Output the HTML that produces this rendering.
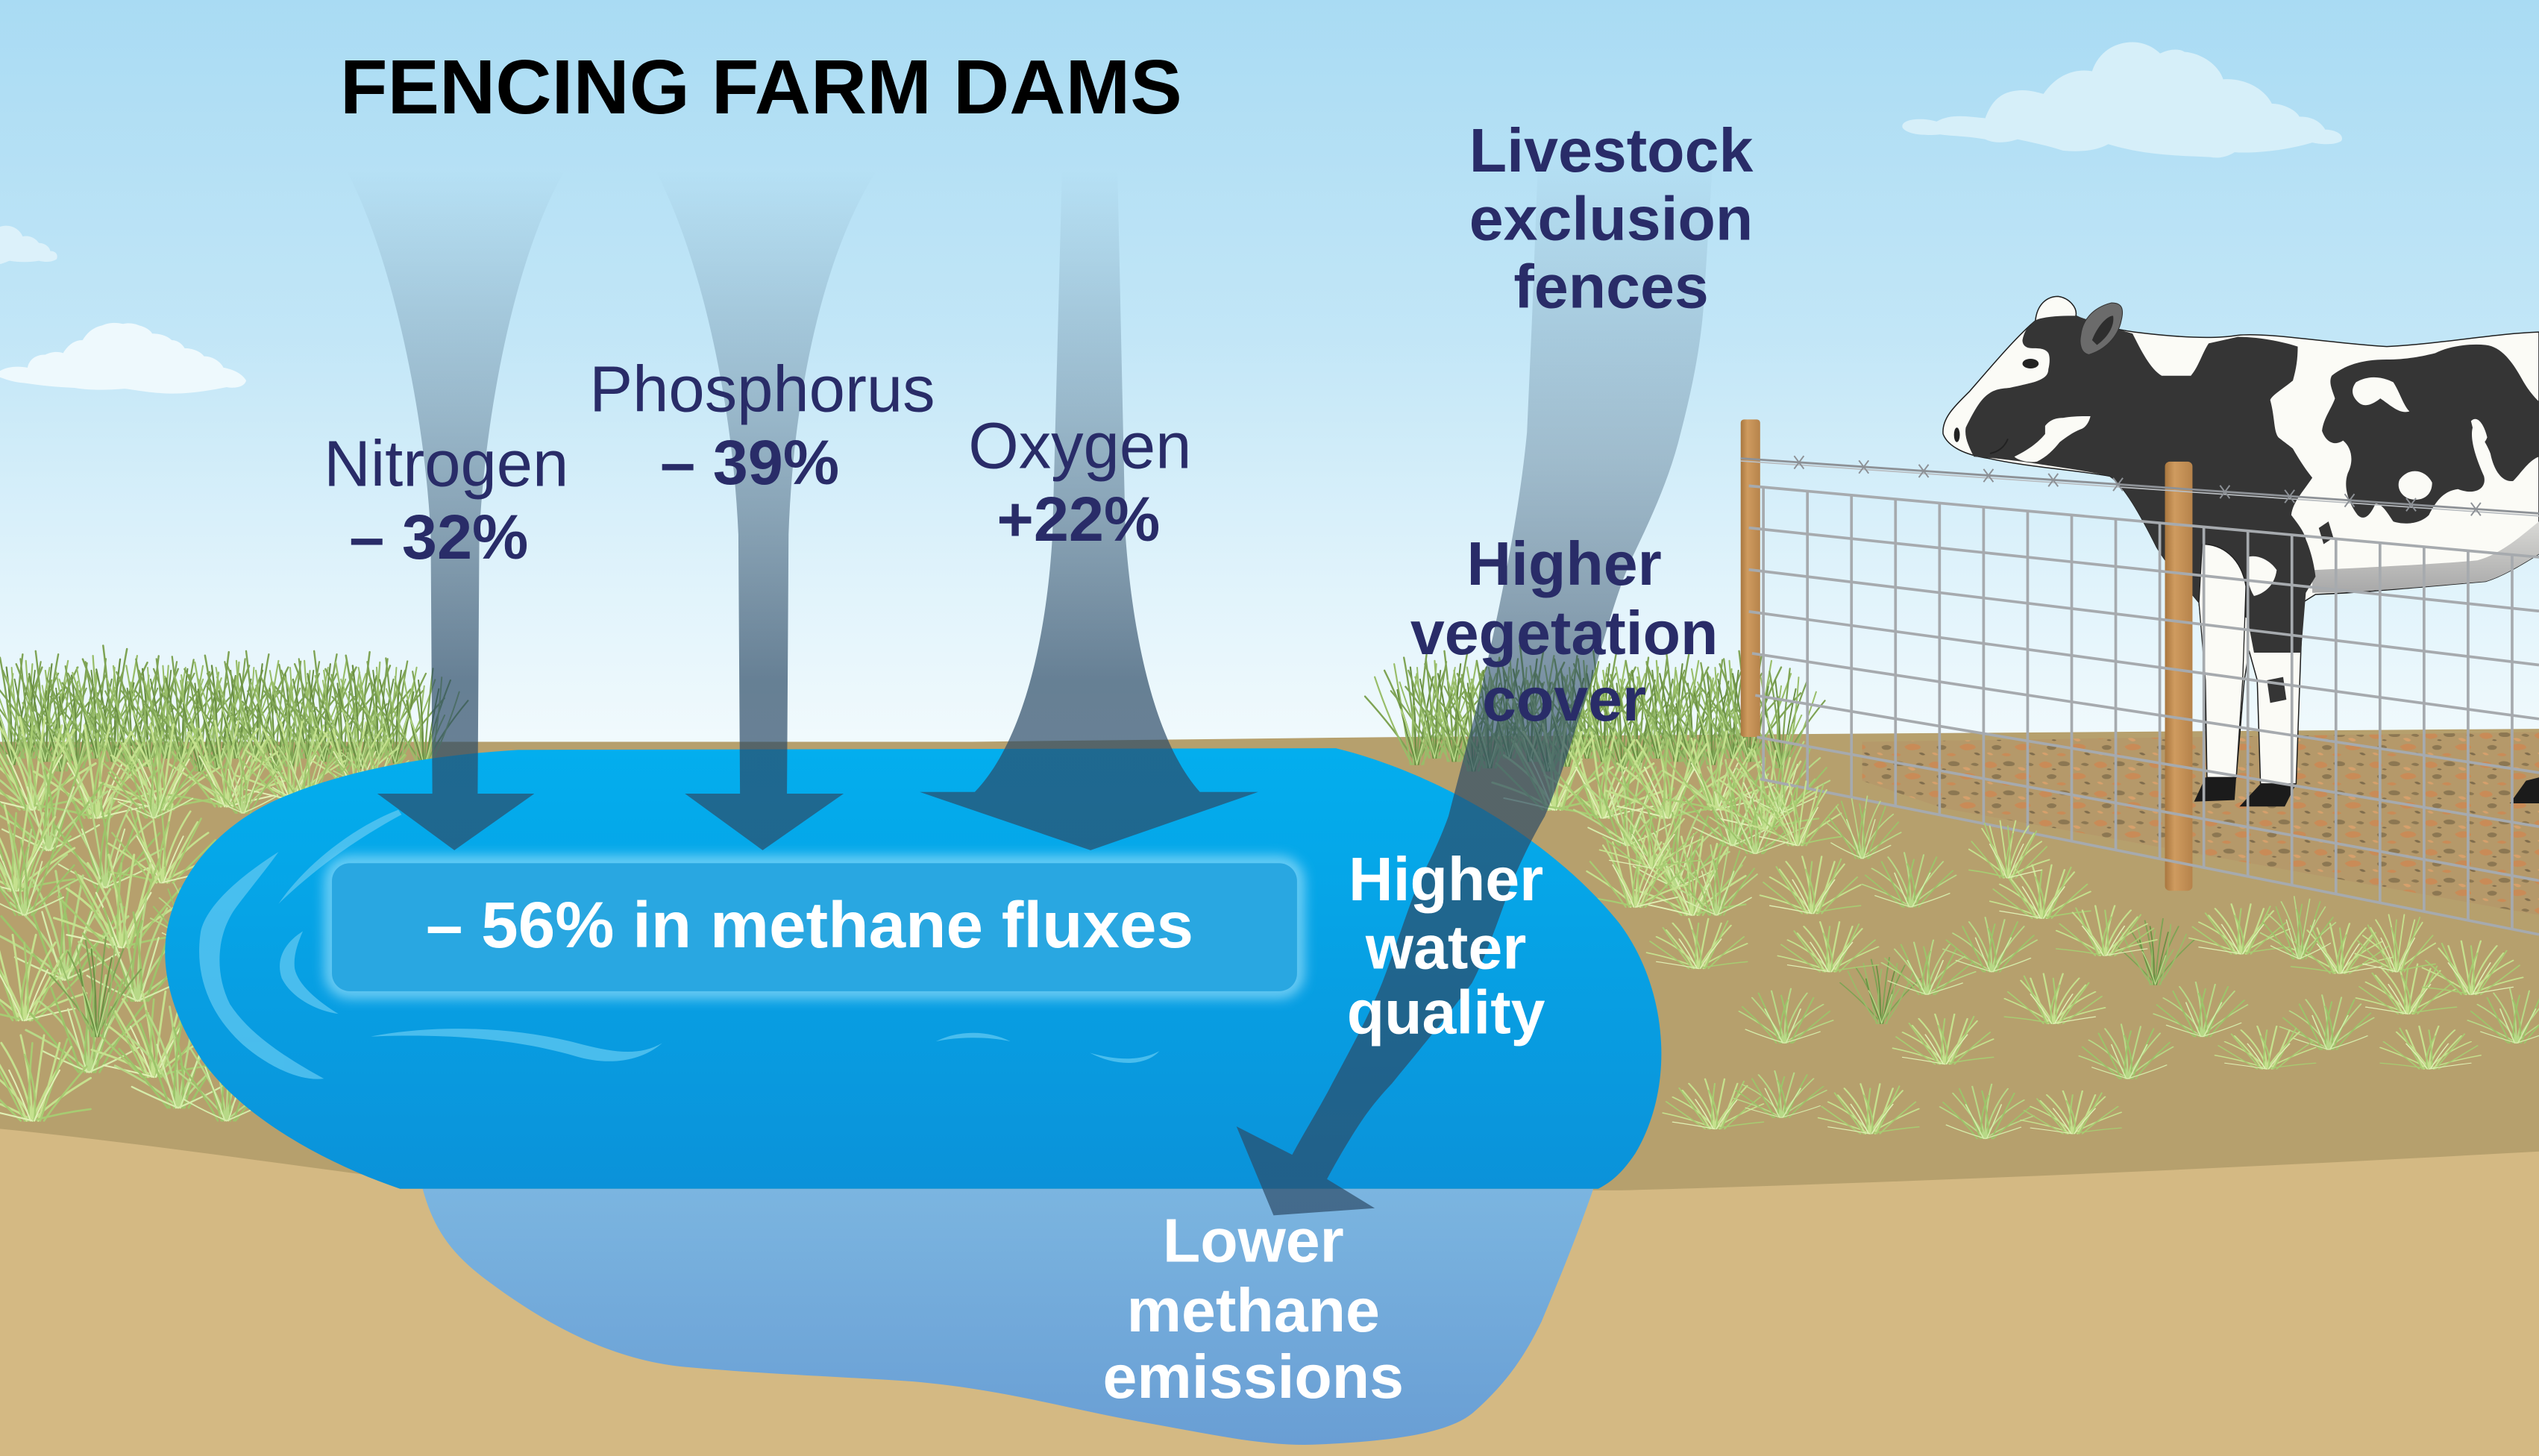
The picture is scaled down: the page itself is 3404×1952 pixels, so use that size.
<!DOCTYPE html>
<html><head><meta charset="utf-8"><style>
html,body{margin:0;padding:0;background:#fff;overflow:hidden}
svg{display:block}
text{font-family:"Liberation Sans",Arial,sans-serif}
</style></head><body>
<svg xmlns="http://www.w3.org/2000/svg" width="3404" height="1952" viewBox="0 0 1568 899" preserveAspectRatio="none">
<defs>
<linearGradient id="sky" x1="0" y1="0" x2="0" y2="460" gradientUnits="userSpaceOnUse">
<stop offset="0" stop-color="#a9dbf3"/><stop offset="0.45" stop-color="#c2e6f7"/><stop offset="0.78" stop-color="#e0f3fb"/><stop offset="1" stop-color="#f1fafd"/>
</linearGradient>
<linearGradient id="pond" x1="0" y1="462" x2="0" y2="734" gradientUnits="userSpaceOnUse">
<stop offset="0" stop-color="#03aeee"/><stop offset="1" stop-color="#0b92d9"/>
</linearGradient>
<linearGradient id="pond2" x1="0" y1="734" x2="0" y2="892" gradientUnits="userSpaceOnUse">
<stop offset="0" stop-color="#7bb5e0"/><stop offset="1" stop-color="#699ed4"/>
</linearGradient>
<linearGradient id="ag" x1="0" y1="105" x2="0" y2="420" gradientUnits="userSpaceOnUse">
<stop offset="0" stop-color="#2b4a66" stop-opacity="0"/><stop offset="0.45" stop-color="#2b4a66" stop-opacity="0.3"/><stop offset="1" stop-color="#2b4a66" stop-opacity="0.69"/>
</linearGradient>
<linearGradient id="ag2" x1="0" y1="95" x2="0" y2="470" gradientUnits="userSpaceOnUse">
<stop offset="0" stop-color="#2b4a66" stop-opacity="0"/><stop offset="0.5" stop-color="#2b4a66" stop-opacity="0.3"/><stop offset="1" stop-color="#2b4a66" stop-opacity="0.69"/>
</linearGradient>
<linearGradient id="post" x1="0" y1="0" x2="1" y2="0">
<stop offset="0" stop-color="#a9773f"/><stop offset="0.35" stop-color="#cf9b5f"/><stop offset="1" stop-color="#b6834b"/>
</linearGradient>
<linearGradient id="belly" x1="0" y1="0" x2="0" y2="1">
<stop offset="0" stop-color="#d9d9d6"/><stop offset="1" stop-color="#a8a8a8"/>
</linearGradient>
<filter id="glow" x="-10%" y="-40%" width="120%" height="180%"><feGaussianBlur stdDeviation="4"/></filter>
<pattern id="pen" width="34" height="18" patternUnits="userSpaceOnUse">
<rect width="34" height="18" fill="#b5996a"/>
<path fill="#c98b57" d="M1,4 q3,-3 7,-1 q3,2 -1,3 q-4,1 -6,-2z M20,11 q4,-3 9,-1 q3,2 -2,3 q-5,1 -7,-2z M12,16 q3,-2 6,0 q-2,2 -6,0z"/>
<path fill="#8c7752" d="M13,3 q3,-2 7,0 q1,2 -3,2 q-4,0 -4,-2z M6,11 q3,-2 6,0 q0,2 -3,2 q-3,0 -3,-2z M27,4 q2,-2 5,0 q-1,2 -5,0z"/>
<path fill="#d6a06c" d="M22,6 q3,-1 5,1 q-2,2 -5,-1z M3,15 q2,-1 4,1 q-2,1 -4,-1z"/>
<path fill="#7f6c4c" d="M29,15 q2,-1 4,1 q-2,1 -4,-1z M9,7 q1,-1 3,0 q-1,1 -3,0z"/>
</pattern>
<g id="tA" fill="none" stroke-linecap="round">
<path stroke="#b7d987" stroke-width="1" d="M0,0Q-6,-20-24,-34M0,0Q-3,-24-14,-44M0,0Q0,-26-4,-48M0,0Q4,-24 8,-46M0,0Q6,-18 20,-40M0,0Q8,-12 28,-28M0,0Q-10,-10-30,-20"/>
<path stroke="#9cc46a" stroke-width="1" d="M-4,0Q-10,-18-18,-40M3,0Q8,-20 16,-44M-2,0Q-2,-22 2,-42M5,0Q12,-14 26,-32M-5,0Q-14,-12-28,-28M2,0Q4,-18-2,-38"/>
<path stroke="#d5ecaa" stroke-width="0.8" d="M-1,0Q-6,-16-10,-30M1,0Q6,-14 12,-30M0,0Q-14,-6-22,-10M0,0Q14,-6 24,-12"/>
</g>
<g id="tC" fill="none" stroke-linecap="round">
<path stroke="#c5e18e" stroke-width="1.1" d="M0,0Q-8,-16-26,-28M0,0Q-4,-22-16,-40M0,0Q-1,-24-6,-44M0,0Q3,-24 6,-44M0,0Q7,-18 20,-38M0,0Q10,-10 30,-22M0,0Q-12,-8-32,-14M-3,0Q-8,-14-20,-34M3,0Q8,-16 14,-40"/>
<path stroke="#a7cc72" stroke-width="1" d="M-4,0Q-12,-16-22,-36M4,0Q10,-18 18,-42M-2,0Q-2,-20 0,-40M6,0Q14,-12 28,-28M-6,0Q-16,-10-30,-24M1,0Q3,-16-4,-34M0,0Q14,-4 30,-6"/>
<path stroke="#e0f0b4" stroke-width="0.8" d="M-1,0Q-6,-14-12,-26M1,0Q6,-12 14,-26M0,0Q-16,-4-26,-6"/>
</g>
<g id="tB" fill="none" stroke-linecap="round">
<path stroke="#7ea354" stroke-width="1.1" d="M0,0Q-6,-30-20,-58M0,0Q-2,-34-8,-66M0,0Q2,-36 6,-68M0,0Q6,-30 18,-60M0,0Q10,-22 30,-46M0,0Q-12,-20-32,-42"/>
<path stroke="#98bd69" stroke-width="1" d="M-4,0Q-8,-28-14,-62M4,0Q10,-30 12,-62M-2,0Q-4,-30 0,-56M3,0Q14,-20 24,-52M-3,0Q-16,-24-26,-54M1,0Q6,-20 14,-36"/>
<path stroke="#6a8f43" stroke-width="1" d="M-1,0Q0,-30-4,-60M1,0Q4,-26 10,-54M0,0Q-8,-22-12,-46"/>
<path stroke="#b9da8a" stroke-width="0.8" d="M0,0Q-4,-20-10,-34M0,0Q5,-18 8,-30"/>
</g>
</defs>

<!-- sky -->
<rect x="0" y="0" width="1568" height="899" fill="url(#sky)"/>
<!-- clouds -->
<path fill="#d6eff9" d="M1175,79 C1173,74 1185,72 1196,75 C1205,70 1215,72 1226,73 C1230,62 1236,57 1245,56 C1252,55 1258,57 1262,58 C1270,46 1282,42 1292,44 C1296,32 1306,26 1317,26 C1325,26 1331,30 1334,33 C1340,30 1346,30 1349,32 C1360,33 1370,40 1373,49 C1385,48 1398,54 1403,64 C1410,64 1418,68 1420,72 C1428,72 1433,75 1436,80 C1442,80 1448,83 1446,87 C1442,90 1432,89 1428,88 C1415,92 1395,95 1380,94 C1375,97 1370,98 1365,97 C1345,96 1325,96 1302,89 C1295,93 1285,94 1274,93 C1265,90 1255,88 1246,86 C1240,88 1232,89 1226,86 C1215,84 1205,84 1198,83 C1188,84 1178,83 1175,79 Z"/>
<path fill="#eef9fd" d="M0,229 C5,226 12,226 17,227 C18,222 22,219 28,219 C32,217 36,217 39,218 C42,213 46,210 51,210 C54,205 58,202 63,201 C67,199 72,199 76,200 C80,199 84,200 86,201 C90,202 93,204 94,206 C100,206 104,208 106,210 C110,210 113,213 114,215 C119,215 124,217 126,220 C131,220 136,223 138,227 C144,228 150,231 152,235 C151,239 145,240 140,239 C130,241 118,243 107,243 C95,243 85,241 77,240 C65,241 55,241 46,239.5 C35,239 25,238 15,236.5 C8,236 3,234 0,233 Z"/>
<path fill="#dcf1fa" d="M0,140 C6,138 12,141 14,146 C18,145 22,147 24,150 C28,150 31,153 31,155 C35,155 36,158 35,160 C32,162 28,162 24,161 C18,162 12,162 6,161 C3,162 1,163 0,163 Z"/>

<!-- ground -->
<path fill="#b6a06d" d="M0,458 L600,458 L870,455 L1568,450 L1568,899 L0,899 Z"/>
<path fill="#d4b983" d="M0,697 C80,705 170,718 260,730 L1000,735 C1150,731 1350,723 1568,711 L1568,899 L0,899 Z"/>
<path fill="url(#pen)" d="M1150,458 L1568,452 L1568,565 L1200,499 L1150,482 Z"/>

<!-- grass behind pond -->
<g>
<use href="#tB" transform="translate(8,472)"/>
<use href="#tB" transform="translate(18,468) scale(-0.9,0.9)"/>
<use href="#tB" transform="translate(28,470) scale(-1,1)"/>
<use href="#tB" transform="translate(38,476) scale(0.85)"/>
<use href="#tB" transform="translate(48,474) scale(0.95)"/>
<use href="#tB" transform="translate(60,468) scale(0.9)"/>
<use href="#tB" transform="translate(70,470) scale(-1.05,1.05)"/>
<use href="#tB" transform="translate(82,476) scale(0.85)"/>
<use href="#tB" transform="translate(92,473)"/>
<use href="#tB" transform="translate(102,468) scale(-0.9,0.9)"/>
<use href="#tB" transform="translate(112,470) scale(-0.95,0.95)"/>
<use href="#tB" transform="translate(124,476) scale(0.9)"/>
<use href="#tB" transform="translate(135,474) scale(1.05)"/>
<use href="#tB" transform="translate(146,468) scale(0.9)"/>
<use href="#tB" transform="translate(158,470) scale(-1,1)"/>
<use href="#tB" transform="translate(170,476) scale(0.85)"/>
<use href="#tB" transform="translate(180,473) scale(0.95)"/>
<use href="#tB" transform="translate(190,468) scale(-0.9,0.9)"/>
<use href="#tB" transform="translate(200,470) scale(-1,1)"/>
<use href="#tB" transform="translate(212,476) scale(0.9)"/>
<use href="#tB" transform="translate(222,474) scale(1.05)"/>
<use href="#tB" transform="translate(234,468) scale(0.9)"/>
<use href="#tB" transform="translate(244,471) scale(-0.95,0.95)"/>
<use href="#tB" transform="translate(262,474) scale(0.9)"/>
<use href="#tC" transform="translate(20,500) scale(1.3)"/>
<use href="#tC" transform="translate(60,505) scale(-1.3,1.3)"/>
<use href="#tC" transform="translate(100,500) scale(1.2)"/>
<use href="#tC" transform="translate(140,498) scale(-1.2,1.2)"/>
<use href="#tC" transform="translate(180,494) scale(1.1)"/>
<use href="#tC" transform="translate(220,490) scale(-1,1)"/>
<use href="#tA" transform="translate(30,525) scale(1.3)"/>
<use href="#tA" transform="translate(65,548) scale(-1.2,1.2)"/>
<use href="#tC" transform="translate(10,550) scale(1.2)"/>
<use href="#tC" transform="translate(100,545) scale(-1.1,1.1)"/>
<use href="#tA" transform="translate(40,605) scale(1.4)"/>
<use href="#tC" transform="translate(75,585) scale(1.3)"/>
<use href="#tA" transform="translate(85,618) scale(-1.3,1.3)"/>
<use href="#tC" transform="translate(15,630) scale(-1.2,1.2)"/>
<use href="#tA" transform="translate(55,662) scale(1.3)"/>
<use href="#tC" transform="translate(95,665) scale(1.2)"/>
<use href="#tA" transform="translate(110,684) scale(1.3)"/>
<use href="#tA" transform="translate(140,692) scale(-1.1,1.1)"/>
<use href="#tC" transform="translate(20,692) scale(1.2)"/>
<use href="#tA" transform="translate(150,502) scale(0.9)"/>
<use href="#tA" transform="translate(190,497) scale(-0.9,0.9)"/>
<use href="#tA" transform="translate(230,492) scale(0.8)"/>
<use href="#tA" transform="translate(95,505)"/>
<use href="#tA" transform="translate(15,565) scale(-1.1,1.1)"/>
<use href="#tA" transform="translate(120,585) scale(0.9)"/>
<use href="#tB" transform="translate(60,640) scale(0.9)"/>
<use href="#tB" transform="translate(875,472)"/>
<use href="#tB" transform="translate(886,468) scale(-0.9,0.9)"/>
<use href="#tB" transform="translate(898,470) scale(-1,1)"/>
<use href="#tB" transform="translate(910,476) scale(0.9)"/>
<use href="#tB" transform="translate(920,474)"/>
<use href="#tB" transform="translate(932,468) scale(0.9)"/>
<use href="#tB" transform="translate(945,470) scale(-1.05,1.05)"/>
<use href="#tB" transform="translate(956,476) scale(0.9)"/>
<use href="#tB" transform="translate(968,473)"/>
<use href="#tB" transform="translate(980,468) scale(-0.9,0.9)"/>
<use href="#tB" transform="translate(990,470) scale(-1,1)"/>
<use href="#tB" transform="translate(1002,476) scale(0.9)"/>
<use href="#tB" transform="translate(1012,474)"/>
<use href="#tB" transform="translate(1024,468) scale(0.9)"/>
<use href="#tB" transform="translate(1035,470) scale(-1,1)"/>
<use href="#tB" transform="translate(1046,476) scale(0.9)"/>
<use href="#tB" transform="translate(1058,472) scale(0.95)"/>
<use href="#tB" transform="translate(1070,468) scale(-0.9,0.9)"/>
<use href="#tB" transform="translate(1080,470) scale(-1,1)"/>
<use href="#tB" transform="translate(1100,474) scale(0.9)"/>
<use href="#tC" transform="translate(960,500) scale(1.2)"/>
<use href="#tC" transform="translate(990,505) scale(-1.2,1.2)"/>
<use href="#tA" transform="translate(1005,522) scale(1.1)"/>
<use href="#tC" transform="translate(1030,505) scale(1.2)"/>
<use href="#tA" transform="translate(1035,548) scale(-1.1,1.1)"/>
<use href="#tC" transform="translate(1060,500) scale(-1.1,1.1)"/>
<use href="#tA" transform="translate(1070,522) scale(1.1)"/>
<use href="#tC" transform="translate(1090,512) scale(1.1)"/>
<use href="#tA" transform="translate(1100,502) scale(-1,1)"/>
<use href="#tC" transform="translate(1045,565) scale(1.1)"/>
<use href="#tA" transform="translate(1060,565) scale(0.9)"/>
<use href="#tC" transform="translate(1010,560) scale(-1,1)"/>
</g>

<!-- pond -->
<path fill="url(#pond2)" d="M261,734 C268,760 280,775 300,790 C340,820 380,840 423,844 C480,849 520,850 564,853 C620,858 660,870 705,878 C745,885 780,893 811,892 C860,890 895,885 910,872 C935,850 945,830 952,816 C965,785 975,760 984,734 Z"/>
<path fill="url(#pond)" d="M320,463 L825,462 C890,478 960,520 1000,570 C1030,610 1035,670 1010,712 C1002,724 995,730 987,734 L247,734 C200,718 150,690 125,655 C105,625 98,595 104,570 C112,535 140,505 180,490 C220,474 270,466 320,463 Z"/>
<g fill="#5fc8f2" opacity="0.75">
<path d="M246,500 C220,510 190,532 172,558 C195,536 220,518 248,503 Z"/>
<path d="M172,526 C150,540 128,558 124,575 C120,600 128,625 150,645 C165,658 185,668 200,666 C180,655 155,640 142,620 C132,600 134,576 146,560 C155,548 165,536 172,526 Z"/>
<path d="M187,575 C176,582 170,592 174,604 C180,616 195,624 209,626 C196,618 184,608 182,598 C181,590 184,582 187,575 Z"/>
<path d="M229,640 C270,632 320,634 360,645 C380,650 395,652 409,644 C395,656 375,658 355,652 C320,642 280,638 229,640 Z"/>
<path d="M578,643 C592,636 610,636 624,643 C610,640 592,640 578,643 Z"/>
<path d="M673,650 C690,655 705,655 716,649 C708,658 690,659 673,650 Z"/>
</g>
<!-- box -->
<rect x="205" y="533" width="596" height="79" rx="11" fill="none" stroke="#8fdcfa" stroke-width="8" filter="url(#glow)" opacity="0.9"/>
<rect x="205" y="533" width="596" height="79" rx="11" fill="#29a7e1"/>

<!-- scattered grass right -->
<g>
<use href="#tC" transform="translate(1049,598) scale(1,0.7)"/>
<use href="#tA" transform="translate(1102,644) scale(-1,0.7)"/>
<use href="#tC" transform="translate(1059,697) scale(1,0.7)"/>
<use href="#tC" transform="translate(1155,700) scale(1,0.7)"/>
<use href="#tA" transform="translate(1226,703) scale(-1,0.7)"/>
<use href="#tB" transform="translate(1162,632) scale(0.8,0.6)"/>
<use href="#tC" transform="translate(1201,657) scale(1,0.7)"/>
<use href="#tA" transform="translate(1190,614) scale(-1,0.7)"/>
<use href="#tC" transform="translate(1261,567) scale(1,0.75)"/>
<use href="#tC" transform="translate(1268,632) scale(-1,0.7)"/>
<use href="#tA" transform="translate(1314,666) scale(1,0.7)"/>
<use href="#tB" transform="translate(1331,608) scale(0.8,0.6)"/>
<use href="#tC" transform="translate(1384,589) scale(1,0.7)"/>
<use href="#tC" transform="translate(1445,601) scale(-1,0.7)"/>
<use href="#tA" transform="translate(1438,648) scale(1,0.7)"/>
<use href="#tC" transform="translate(1487,626) scale(1,0.7)"/>
<use href="#tC" transform="translate(1526,614) scale(-1,0.75)"/>
<use href="#tA" transform="translate(1554,644) scale(1,0.7)"/>
<use href="#tC" transform="translate(1119,564) scale(1,0.8)"/>
<use href="#tA" transform="translate(1084,527) scale(-1,0.8)"/>
<use href="#tC" transform="translate(1020,536) scale(1,0.8)"/>
<use href="#tC" transform="translate(1130,600) scale(1,0.7)"/>
<use href="#tA" transform="translate(1230,600) scale(1,0.7)"/>
<use href="#tC" transform="translate(1300,590) scale(-1,0.7)"/>
<use href="#tA" transform="translate(1360,640) scale(1,0.7)"/>
<use href="#tC" transform="translate(1400,660) scale(1,0.6)"/>
<use href="#tC" transform="translate(1500,660) scale(-1,0.6)"/>
<use href="#tA" transform="translate(1100,690) scale(1,0.6)"/>
<use href="#tC" transform="translate(1280,700) scale(1,0.6)"/>
<use href="#tA" transform="translate(1180,560) scale(1,0.7)"/>
</g>

<!-- cow -->
<g stroke-linejoin="round">
<path fill="#fbfbf6" stroke="#1e1e1e" stroke-width="0.7" d="M1200,268 C1199,258 1208,250 1216,242 C1230,226 1245,208 1257,198 C1258,188 1264,183 1271,183 C1278,184 1283,190 1282,195 C1292,200 1304,203 1318,205 C1350,209 1370,209 1382,207 C1400,205 1440,212 1474,214 C1510,212 1540,206 1568,205 L1568,342 C1555,350 1545,356 1535,359 C1500,362 1460,366 1430,367 L1422,372 L1418,484 L1396,484 L1394,420 L1389,402 L1386,420 L1381,480 L1363,480 L1361,400 L1358,372 C1348,360 1338,348 1332,338 C1322,318 1312,300 1303,294 C1280,290 1250,288 1228,283 C1214,281 1203,276 1200,268 Z"/>
<path fill="url(#belly)" d="M1428,352 C1470,350 1510,348 1530,346 C1545,342 1558,330 1568,322 L1568,342 C1555,350 1545,356 1535,359 C1500,362 1460,366 1428,366 Z"/>
<path fill="#353535" d="M1219,282 C1216,276 1213,270 1214,264 C1218,256 1222,248 1227,244 C1232,240 1236,240 1241,239.5 C1248,238 1252,237 1256,236 C1262,234 1265,232 1265,228 C1266,224 1266,220 1265,218 C1263,215 1259,215 1255,215 C1251,215 1249,213 1249,210 C1250,205 1252,202 1254,201 C1256,198 1258,197 1261,196.5 C1268,195 1276,195 1282,195 L1300,201 L1317,206 C1322,216 1328,228 1335,232 L1353,232 C1358,226 1360,218 1364,212 L1382,208 C1395,208 1410,211 1419,214 C1419,222 1418,228 1416,235 C1410,240 1403,244 1402,247 C1405,258 1404,266 1407,270 C1412,274 1415,276 1416,277 C1420,284 1424,290 1428,295 C1422,304 1416,310 1415,318 C1418,322 1423,328 1424,333 C1427,340 1429,348 1430,356 L1424,366 L1421,403 L1392,403 L1388,382 L1372,372 L1358,372 C1348,360 1338,348 1332,338 C1322,318 1312,300 1303,294 C1290,291 1275,289 1262,287 C1250,285 1235,283 1219,282 Z"/>
<path fill="#fbfbf6" stroke="#1e1e1e" stroke-width="0.6" d="M1360,336 C1372,336 1384,344 1387,362 L1385,420 L1381,480 L1363,480 L1362,420 L1358,372 Z"/>
<path fill="#fbfbf6" d="M1388,344 C1394,342 1402,346 1406,352 C1405,360 1400,366 1392,368 C1388,362 1387,352 1388,344 Z"/>
<path fill="#fbfbf6" d="M1263,263 C1266,259 1270,258 1274,258 C1280,257 1286,257 1291,257 C1290,261 1288,264 1285,265 C1280,267 1276,270 1272,273 C1268,278 1264,282 1258,285 C1252,286 1246,284 1244,282 C1252,278 1258,274 1263,268 Z"/>
<path fill="#353535" d="M1440,232 C1450,224 1462,222 1474,222 C1486,222 1496,220 1504,218 C1512,214 1524,212 1535,213 C1545,214 1552,224 1558,235 C1562,242 1566,246 1568,248 L1568,282 C1562,284 1557,292 1552,297 C1545,298 1540,290 1538,280 C1535,272 1530,266 1527,264 C1525,272 1530,285 1534,294 C1536,302 1528,306 1518,302 C1510,303 1505,308 1500,318 C1494,324 1484,324 1478,322 C1474,316 1471,311 1467,311 C1464,318 1460,322 1456,318 C1450,310 1447,300 1450,292 C1454,284 1452,276 1447,272 C1441,276 1436,272 1434,266 C1435,258 1440,252 1442,246 C1440,240 1438,236 1440,232 Z"/>
<path fill="#fbfbf6" d="M1455,236 C1462,232 1470,232 1478,236 C1482,242 1484,250 1488,254 C1482,256 1476,250 1470,246 C1465,250 1460,252 1456,248 C1452,244 1452,240 1455,236 Z"/>
<path fill="#fbfbf6" d="M1482,296 C1488,288 1498,290 1502,298 C1502,306 1496,310 1488,308 C1482,306 1480,300 1482,296 Z"/>
<path fill="#fbfbf6" d="M1526,260 C1530,256 1534,262 1536,270 C1534,276 1530,274 1528,268 Z"/>
<path fill="#353535" d="M1432,326 L1438,322 L1441,332 L1435,336 Z"/>
<path fill="#353535" d="M1400,420 L1410,418 L1412,432 L1402,434 Z"/>
<path fill="#6b6b6b" stroke="#333" stroke-width="0.5" d="M1285,207 C1286,198 1292,190 1304,187 C1310,187 1312,190 1310,198 C1308,208 1300,216 1290,219 C1285,218 1284,212 1285,207 Z"/>
<path fill="#2e2e2e" d="M1292,210 C1295,202 1301,195 1305,195 C1306,201 1302,208 1295,213 Z"/>
<ellipse cx="1254" cy="224.5" rx="5" ry="3" fill="#222"/>
<ellipse cx="1208.5" cy="268.5" rx="1.8" ry="4.5" fill="#222"/>
<path d="M1229,280 C1234,279 1238,276 1240,271" fill="none" stroke="#222" stroke-width="0.9"/>
<path fill="#1b1b1b" d="M1362,480 L1381,480 L1380,494 L1355,495 Z"/>
<path fill="#1b1b1b" d="M1396,484 L1418,484 L1411,498 L1383,498 Z"/>
<path fill="#1b1b1b" d="M1560,482 L1568,480 L1568,496 L1550,496 Z"/>
</g>

<!-- fence -->
<rect x="1075" y="259" width="12" height="196" rx="2" fill="url(#post)"/>
<rect x="1337" y="285" width="17" height="265" rx="3" fill="url(#post)"/>
<g stroke="#a6aaae" stroke-width="1.7" fill="none">
<path d="M1080,300 L1568,344 M1080,325.9 L1568,377.3 M1080,351.7 L1568,410.6 M1080,377.6 L1568,443.9 M1082,403.4 L1568,477.1 M1084,429.3 L1568,510.4 M1085,455.1 L1568,543.7 M1087,481 L1568,577"/>
<path d="M1089,300.8V481.4 M1116.2,303.3V486.8 M1143.4,305.7V492.3 M1170.6,308.2V497.7 M1197.8,310.6V503.1 M1225,313.1V508.5 M1252.2,315.6V514 M1279.4,318V519.4 M1306.6,320.5V524.8 M1333.8,322.9V530.3 M1361,325.4V535.7 M1388.2,327.8V541.1 M1415.4,330.3V546.5 M1442.6,332.7V552 M1469.8,335.2V557.4 M1497,337.6V562.8 M1524.2,340.1V568.2 M1551.4,342.6V573.7"/>
</g>
<path d="M1075,283 L1568,317" stroke="#8d9196" stroke-width="1.3" fill="none"/>
<path d="M1075,284.6 L1568,318.6" stroke="#b9bdc1" stroke-width="0.8" fill="none"/>
<g stroke="#8d9196" stroke-width="0.9">
<path d="M1108,281.5l6,8M1114,281.5l-6,8 M1148,284.3l6,8M1154,284.3l-6,8 M1185,286.8l6,8M1191,286.8l-6,8 M1225,289.6l6,8M1231,289.6l-6,8 M1265,292.4l6,8M1271,292.4l-6,8 M1305,295.1l6,8M1311,295.1l-6,8 M1371,299.7l6,8M1377,299.7l-6,8 M1411,302.5l6,8M1417,302.5l-6,8 M1448,305l6,8M1454,305l-6,8 M1486,307.6l6,8M1492,307.6l-6,8 M1526,310.4l6,8M1532,310.4l-6,8"/>
</g>
<!-- grass in front of fence bottom -->
<use href="#tC" transform="translate(1110,522) scale(0.9)"/>
<use href="#tA" transform="translate(1150,530) scale(-0.8,0.8)"/>
<use href="#tC" transform="translate(1240,542) scale(-0.8,0.8)"/>
<use href="#tA" transform="translate(1420,592) scale(0.8)"/>
<use href="#tC" transform="translate(1480,600) scale(0.8)"/>

<!-- arrows -->
<path fill="url(#ag)" d="M211,100 C240,150 262,250 266,330 L267,490 L233,490 L280.6,525 L330,490 L295,490 L296,330 C300,250 320,150 352,100 Z"/>
<path fill="url(#ag)" d="M402,100 C430,150 452,240 456,330 L457,490 L423,490 L471,525 L521,490 L486,490 L487,330 C490,240 510,150 545,100 Z"/>
<path fill="url(#ag)" d="M656,100 L650,330 C646,400 630,460 602,489 L568,489 L673.5,525 L777,489 L741,489 C715,460 700,400 695,330 L690,100 Z"/>
<path fill="url(#ag2)" d="M950,95 L946,200 L943,267 C938,320 925,380 916,420 C910,445 902,475 894.5,504 C888,522 882,533 876,545 C868,565 862,585 853.5,607 C845,628 834,648 822.7,669 C815,684 806,698 798,713 L763.6,695.5 L786.5,750.4 L849,746 L819.5,728 C826,716 834,702 843,689 C848,682 853,676 859.6,669 C875,650 892,630 909,607 C918,590 926,566 933.7,545 C940,530 947,516 954,504 C960,490 965,475 970,460 C974,446 979,433 983,420 C992,390 1000,360 1010,340 C1022,315 1032,292 1038,267 C1045,240 1050,215 1052,190 L1058,95 Z"/>

<!-- text -->
<text x="210" y="70" font-size="47.5" font-weight="bold" fill="#000" textLength="520" lengthAdjust="spacingAndGlyphs">FENCING FARM DAMS</text>
<g fill="#292c68">
<text x="200" y="300" font-size="40">Nitrogen</text>
<text x="271" y="345" font-size="39" font-weight="bold" text-anchor="middle">– 32%</text>
<text x="364" y="254" font-size="40">Phosphorus</text>
<text x="463" y="299" font-size="39" font-weight="bold" text-anchor="middle">– 39%</text>
<text x="598" y="289" font-size="40">Oxygen</text>
<text x="666" y="334" font-size="39" font-weight="bold" text-anchor="middle">+22%</text>
<g font-size="38" font-weight="bold" text-anchor="middle">
<text x="995" y="106">Livestock</text>
<text x="995" y="148">exclusion</text>
<text x="995" y="190">fences</text>
<text x="966" y="361">Higher</text>
<text x="966" y="404">vegetation</text>
<text x="966" y="445">cover</text>
</g>
</g>
<g fill="#ffffff" font-weight="bold" text-anchor="middle">
<text x="500" y="585" font-size="40" textLength="474" lengthAdjust="spacingAndGlyphs">– 56% in methane fluxes</text>
<text x="893" y="556" font-size="38">Higher</text>
<text x="893" y="598" font-size="38">water</text>
<text x="893" y="638" font-size="38">quality</text>
<text x="774" y="779" font-size="38">Lower</text>
<text x="774" y="822" font-size="38">methane</text>
<text x="774" y="863" font-size="38">emissions</text>
</g>
</svg>
</body></html>
